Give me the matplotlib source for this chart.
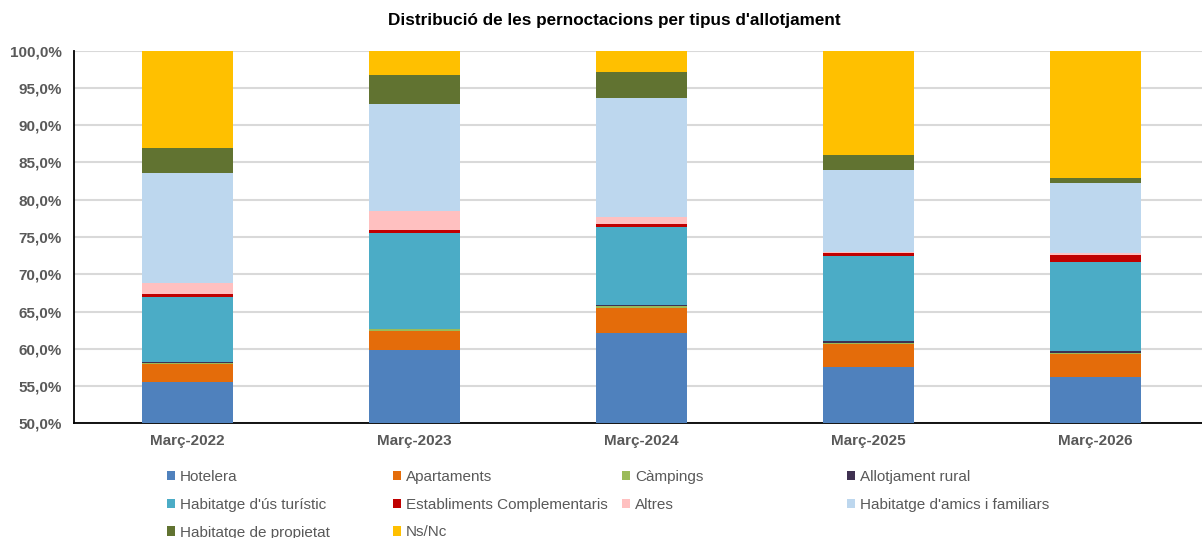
import matplotlib
matplotlib.use("Agg")
import matplotlib.pyplot as plt
from matplotlib.ticker import FuncFormatter
import numpy as np

plt.rcParams['font.family'] = ['Liberation Sans', 'DejaVu Sans']

# periodes
categories = ["Març-2022", "Març-2023", "Març-2024", "Març-2025", "Març-2026"]

# percentatge de pernoctacions per tipus d'allotjament
hotelera = [55.5, 59.8, 62.1, 57.5, 56.2]
apartaments = [2.4, 2.6, 3.4, 3.1, 3.1]
campings = [0.2, 0.2, 0.2, 0.2, 0.2]
rural = [0.1, 0.1, 0.2, 0.2, 0.2]
hut = [8.8, 12.9, 10.5, 11.4, 11.9]
complementaris = [0.3, 0.3, 0.4, 0.5, 1.0]
altres = [1.5, 2.6, 0.9, 0.1, 0.2]
amics = [14.8, 14.3, 16.0, 11.0, 9.4]
propietat = [3.3, 3.9, 3.5, 2.0, 0.7]
nsnc = [13.1, 3.3, 2.8, 14.0, 17.1]

series = [
    ("Hotelera", hotelera, "#4F81BD"),
    ("Apartaments", apartaments, "#E46C0A"),
    ("Càmpings", campings, "#9BBB59"),
    ("Allotjament rural", rural, "#3F3151"),
    ("Habitatge d'ús turístic", hut, "#4BACC6"),
    ("Establiments Complementaris", complementaris, "#C00000"),
    ("Altres", altres, "#FFC0C0"),
    ("Habitatge d'amics i familiars", amics, "#BDD7EE"),
    ("Habitatge de propietat", propietat, "#617331"),
    ("Ns/Nc", nsnc, "#FFC000"),
]

fig = plt.figure(figsize=(12.02, 5.38), dpi=100)
ax = fig.add_axes([74 / 1202, 114.7 / 538, 1135 / 1202, 372.6 / 538])

x = np.arange(len(categories))
bottom = np.zeros(len(categories))
handles = []
for name, vals, col in series:
    b = ax.bar(x, vals, 0.4, bottom=bottom, color=col, label=name, zorder=3)
    handles.append(b)
    bottom += np.array(vals)

ax.set_xlim(-0.5, 4.5)
ax.set_ylim(50, 100)
ax.set_yticks(np.arange(50, 100.1, 5))
ax.yaxis.set_major_formatter(FuncFormatter(lambda v, p: f"{v:.1f}%".replace(".", ",")))
ax.set_xticks(x)
ax.set_xticklabels(categories)
ax.grid(axis='y', color='#D9D9D9', linewidth=1.5, zorder=0)
ax.set_axisbelow(True)

for s in ['top', 'right']:
    ax.spines[s].set_visible(False)
ax.spines['left'].set_linewidth(1.3)
ax.spines['bottom'].set_linewidth(1.3)

ax.tick_params(axis='y', length=0, pad=9, labelsize=11, labelcolor='#595959')
ax.tick_params(axis='x', length=0, pad=8, labelsize=11, labelcolor='#595959')
for t in ax.get_xticklabels() + ax.get_yticklabels():
    t.set_fontweight('bold')

fig.text(614 / 1202, 1 - 20 / 538, "Distribució de les pernoctacions per tipus d'allotjament",
         ha='center', va='center', fontsize=12.3, fontweight='bold', color='black')

# llegenda en 4 columnes d'amplada fixa
col_x = [167, 393, 622, 847]
for c in range(4):
    idx = list(range(c, len(series), 4))
    leg = fig.legend([handles[i] for i in idx], [series[i][0] for i in idx],
                     loc='upper left', bbox_to_anchor=(col_x[c] / 1202, 1 - 470 / 538),
                     frameon=False, fontsize=11, handlelength=0.55, handleheight=0.55,
                     handletextpad=0.3, labelspacing=0.9, borderpad=0, borderaxespad=0)
    for t in leg.get_texts():
        t.set_color('#595959')

plt.savefig("out.png", dpi=100)
